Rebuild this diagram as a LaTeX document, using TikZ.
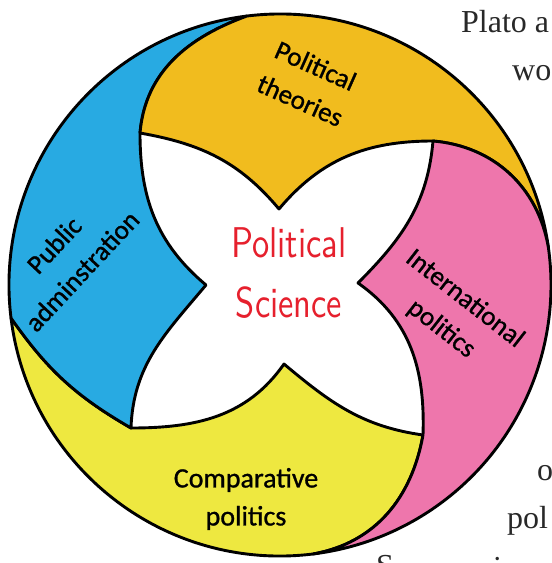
\documentclass[tikz,border=0pt]{standalone}
\usepackage{fontspec}
\usetikzlibrary{calc}
\newfontfamily\labelfont[FakeBold=1]{Carlito}
\newfontfamily\redfont[FakeStretch=0.8]{lmsans10-regular.otf}
\newfontfamily\bgfont{Liberation Serif}
\definecolor{ytop}{RGB}{241,188,30}
\definecolor{pinkr}{RGB}{238,118,172}
\definecolor{limeb}{RGB}{238,232,64}
\definecolor{bluel}{RGB}{40,170,226}
\definecolor{redtxt}{RGB}{230,32,45}
\definecolor{bgtext}{RGB}{40,40,40}
\begin{document}
\begin{tikzpicture}[x=1pt,y=1pt,
  piece/.style={draw=black, line width=2.9pt, line join=round},
  lbl/.style={font=\labelfont\fontsize{27}{38}\selectfont, align=center, text=black, inner sep=0pt},
  bgtxt/.style={font=\bgfont\fontsize{32}{38}\selectfont, text=bgtext, inner sep=0pt, anchor=base west}]
\useasboundingbox (0,0) rectangle (552,-563);
\fill[white] (0,0) rectangle (552,-563);
\coordinate (O) at (280,-285);
\coordinate (T1) at ($(O)+(97:271)$);
\coordinate (T2) at ($(O)+(8:271)$);
\coordinate (T3) at ($(O)+(-83:271)$);
\coordinate (T4) at ($(O)+(187:271)$);
\coordinate (K1) at (140,-133);
\coordinate (K2) at (433,-141);
\coordinate (K3) at (423,-435);
\coordinate (K4) at (131,-428);
\coordinate (E1) at (279,-209);
\coordinate (E2) at (358,-283);
\coordinate (E3) at (284,-364);
\coordinate (E4) at (206,-285);
% lime (bottom)
\path[piece, fill=limeb] (T3) arc[start angle=-83, end angle=-173, radius=271]
  to[out=-55,in=150] (K4) to[out=0,in=-125] (E3) to[out=-40,in=172] (K3)
  to[out=-100,in=10] (T3) -- cycle;
% blue (left)
\path[piece, fill=bluel] (T4) arc[start angle=187, end angle=97, radius=271]
  to[out=200,in=85] (K1) to[out=-90,in=140] (E4) to[out=-130,in=88] (K4)
  to[out=150,in=-55] (T4) -- cycle;
% yellow (top)
\path[piece, fill=ytop] (T1) arc[start angle=97, end angle=8, radius=271]
  to[out=100,in=-5] (K2) to[out=180,in=50] (E1) to[out=130,in=-10] (K1)
  to[out=85,in=200] (T1) -- cycle;
% pink (right)
\path[piece, fill=pinkr] (T2) arc[start angle=8, end angle=-83, radius=271]
  to[out=10,in=-100] (K3) to[out=88,in=-35] (E2) to[out=45,in=-95] (K2)
  to[out=-5,in=100] (T2) -- cycle;
% labels
\node[text=redtxt, font=\redfont\fontsize{43}{60}\selectfont, align=center, inner sep=0pt] (ps) at (289,-273) {Political\\Science};
\node[lbl, rotate=-24] (pt) at (308,-83) {Political\\theories};
\node[lbl, rotate=47] (pa) at (68,-258) {Public\\adminstration};
\node[lbl, rotate=-38] (ip) at (453,-314) {International\\politics};
\node[lbl, font=\labelfont\fontsize{28}{38}\selectfont] (cp) at (246,-499) {Comparative\\politics};
% background text fragments
\node[bgtxt] (t1) at (461,-32) {Plato a};
\node[bgtxt] (t2) at (512,-80) {wo};
\node[bgtxt] (t3) at (537,-480) {o};
\node[bgtxt] (t4) at (507,-528) {pol};
\node[bgtxt] (t5) at (376,-576) {S};
\node[bgtxt] (t6) at (493,-578) {i};
\end{tikzpicture}
\end{document}
